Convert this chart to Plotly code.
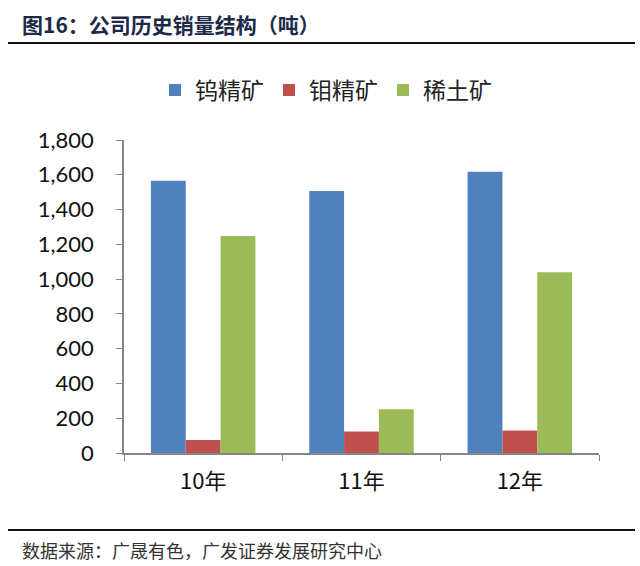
import plotly.graph_objects as go

# data (tonnes)
years = ['10年', '11年', '12年']
tungsten = [1565, 1506, 1617]
molybdenum = [75, 123, 129]
rare_earth = [1248, 252, 1040]

series_names = ['钨精矿', '钼精矿', '稀土矿']
colors = ['#4f81bd', '#c0504d', '#9bbb59']

W, H = 640, 566
L, R, T, B = 124, 41, 140, 113
pw, ph = W - L - R, H - T - B

def px_x(x):
    return (x - L) / pw

def px_y(y):
    return (H - B - y) / ph

fig = go.Figure()
for name, vals, col in zip(series_names, [tungsten, molybdenum, rare_earth], colors):
    fig.add_trace(go.Bar(x=years, y=vals, name=name, marker=dict(color=col, line=dict(width=0))))

axis_col = '#868686'
fig.update_layout(
    width=W, height=H,
    margin=dict(l=L, r=R, t=T, b=B),
    paper_bgcolor='white', plot_bgcolor='white',
    barmode='group', bargap=0.34, bargroupgap=0,
    font=dict(family='Lato, Noto Sans CJK SC', color='#000000'),
    showlegend=True,
    legend=dict(orientation='h', x=px_x(326), xanchor='center', y=px_y(90), yanchor='middle',
                font=dict(size=23, family='Noto Sans CJK SC', color='#222222'),
                itemwidth=30, traceorder='normal'),
    xaxis=dict(showline=True, linecolor=axis_col, linewidth=1.5, ticks='outside', tickson='boundaries',
               ticklen=6, tickcolor=axis_col, ticklabelstandoff=8,
               tickfont=dict(size=22, family='Noto Sans CJK SC', color='#111111'),
               showgrid=False),
    yaxis=dict(range=[0, 1800], dtick=200, tickformat=',', showline=True, linecolor=axis_col,
               linewidth=1.5, ticks='outside', ticklen=6, tickcolor=axis_col, showgrid=False,
               zeroline=False, ticklabelstandoff=18, tickfont=dict(size=22, family='Lato', color='#111111')),
)

# header and footer rules
fig.add_shape(type='line', xref='paper', yref='paper', x0=px_x(8), x1=px_x(635),
              y0=px_y(43), y1=px_y(43), line=dict(color='#111111', width=2))
fig.add_shape(type='line', xref='paper', yref='paper', x0=px_x(8), x1=px_x(635),
              y0=px_y(530), y1=px_y(530), line=dict(color='#111111', width=2))

fig.add_annotation(text='<b>图16：公司历史销量结构（吨）</b>', xref='paper', yref='paper',
                   x=px_x(20), y=px_y(24), xanchor='left', yanchor='middle', showarrow=False,
                   font=dict(size=21, family='Noto Sans CJK SC', color='#1c2a48'))
fig.add_annotation(text='数据来源：广晟有色，广发证券发展研究中心', xref='paper', yref='paper',
                   x=px_x(20), y=px_y(550), xanchor='left', yanchor='middle', showarrow=False,
                   font=dict(size=18, family='Noto Sans CJK SC', color='#333333'))

# drop the default page margin so the figure sits at the window's corner
fig.write_html("out.html", config={'displayModeBar': False},
               post_script="document.body.style.margin='0';")
